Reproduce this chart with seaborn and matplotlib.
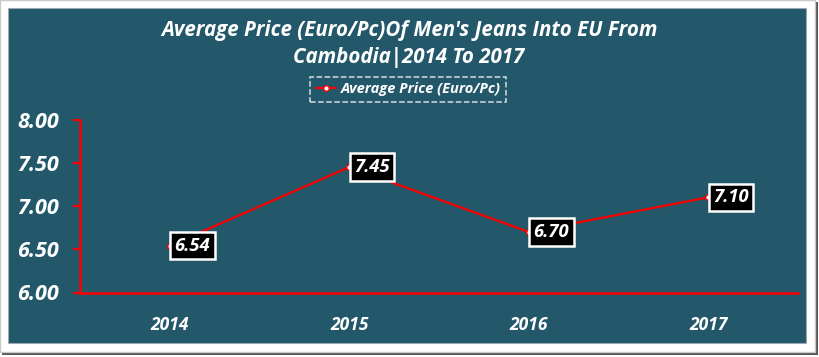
import matplotlib.pyplot as plt
import matplotlib.patches as patches
import seaborn as sns
import pandas as pd

#chart values
years = ['2014', '2015', '2016', '2017']
avg_price = [6.54, 7.45, 6.70, 7.10]
y_ticks = [6.00, 6.50, 7.00, 7.50, 8.00]
series_name = 'Average Price (Euro/Pc)'
title = "Average Price (Euro/Pc)Of Men's Jeans Into EU From\nCambodia|2014 To 2017"

data = pd.DataFrame({'Year': years, 'Price': avg_price})

#colours
panel_color = '#22586A'
red = '#FF0000'
font = ['Open Sans', 'DejaVu Sans']

sns.set_style('white')
plt.rcParams['font.family'] = font

fig = plt.figure(figsize=(8.2, 3.57), dpi=100, facecolor='white')
W, H = 820, 357

#outer frame, shadow and teal panel (pixel boxes converted to figure fractions)
def fig_rect(x0, y0, x1, y1, **kw):
    fig.patches.append(patches.Rectangle((x0 / W, 1 - y1 / H), (x1 - x0) / W, (y1 - y0) / H,
                                         transform=fig.transFigure, zorder=-5, **kw))

fig_rect(2, 2, 818, 355, facecolor='#555555', edgecolor='none')
fig_rect(0, 0, 815, 352, facecolor='white', edgecolor='#C8C8C8', lw=1)
fig_rect(8, 8, 806, 343, facecolor=panel_color, edgecolor='#9AAAB0', lw=0.8)

ax = fig.add_axes([80 / W, 1 - 292.5 / H, (798 - 80) / W, (292.5 - 119.5) / H])
ax.set_facecolor('none')
ax.set_zorder(2)

sns.lineplot(data=data, x='Year', y='Price', ax=ax, color=red, lw=1.6,
             marker='o', markersize=4, markerfacecolor='white', markeredgecolor=red,
             markeredgewidth=1, label=series_name, sort=False)

#data labels in black boxes
for i, v in enumerate(avg_price):
    ax.annotate(f'{v:.2f}', (i, v), xytext=(3.5, 0), textcoords='offset points',
                ha='left', va='center', color='white', fontsize=13.2,
                fontweight='bold', fontstyle='italic',
                bbox=dict(boxstyle='square,pad=0.25', fc='black', ec='white', lw=1.8))

ax.set_xlim(-0.5, 3.5)
ax.set_ylim(6, 8)
ax.set_yticks(y_ticks)
ax.set_yticklabels([f'{t:.2f}' for t in y_ticks])
ax.set_xlabel('')
ax.set_ylabel('')

for s in ['top', 'right']:
    ax.spines[s].set_visible(False)
for s in ['left', 'bottom']:
    ax.spines[s].set_color(red)
    ax.spines[s].set_linewidth(1.8)

ax.tick_params(axis='y', left=True, length=5, width=1.6, color=red, pad=10,
               labelsize=15.5, labelcolor='white')
ax.tick_params(axis='x', bottom=False, length=0, pad=17, labelsize=12.5, labelcolor='white')
for lab in ax.get_xticklabels() + ax.get_yticklabels():
    lab.set_fontweight('bold')
    lab.set_fontstyle('italic')

#title
fig.text(409 / W, 1 - 44 / H, title, ha='center', va='center', color='white',
         fontsize=14.8, fontweight='bold', fontstyle='italic', linespacing=1.4)

#legend with dashed white frame
leg = ax.legend(loc='center', bbox_to_anchor=(408 / W, 1 - 89.5 / H),
                bbox_transform=fig.transFigure, frameon=True, fancybox=False,
                prop={'size': 10.5, 'weight': 'bold', 'style': 'italic'},
                handlelength=1.4, handletextpad=0.3, borderpad=0.4, borderaxespad=0)
leg.get_frame().set_facecolor('none')
leg.get_frame().set_edgecolor('white')
leg.get_frame().set_linestyle('--')
leg.get_frame().set_linewidth(1.1)
for t in leg.get_texts():
    t.set_color('white')

fig.savefig('out.png', dpi=100, facecolor='white')
